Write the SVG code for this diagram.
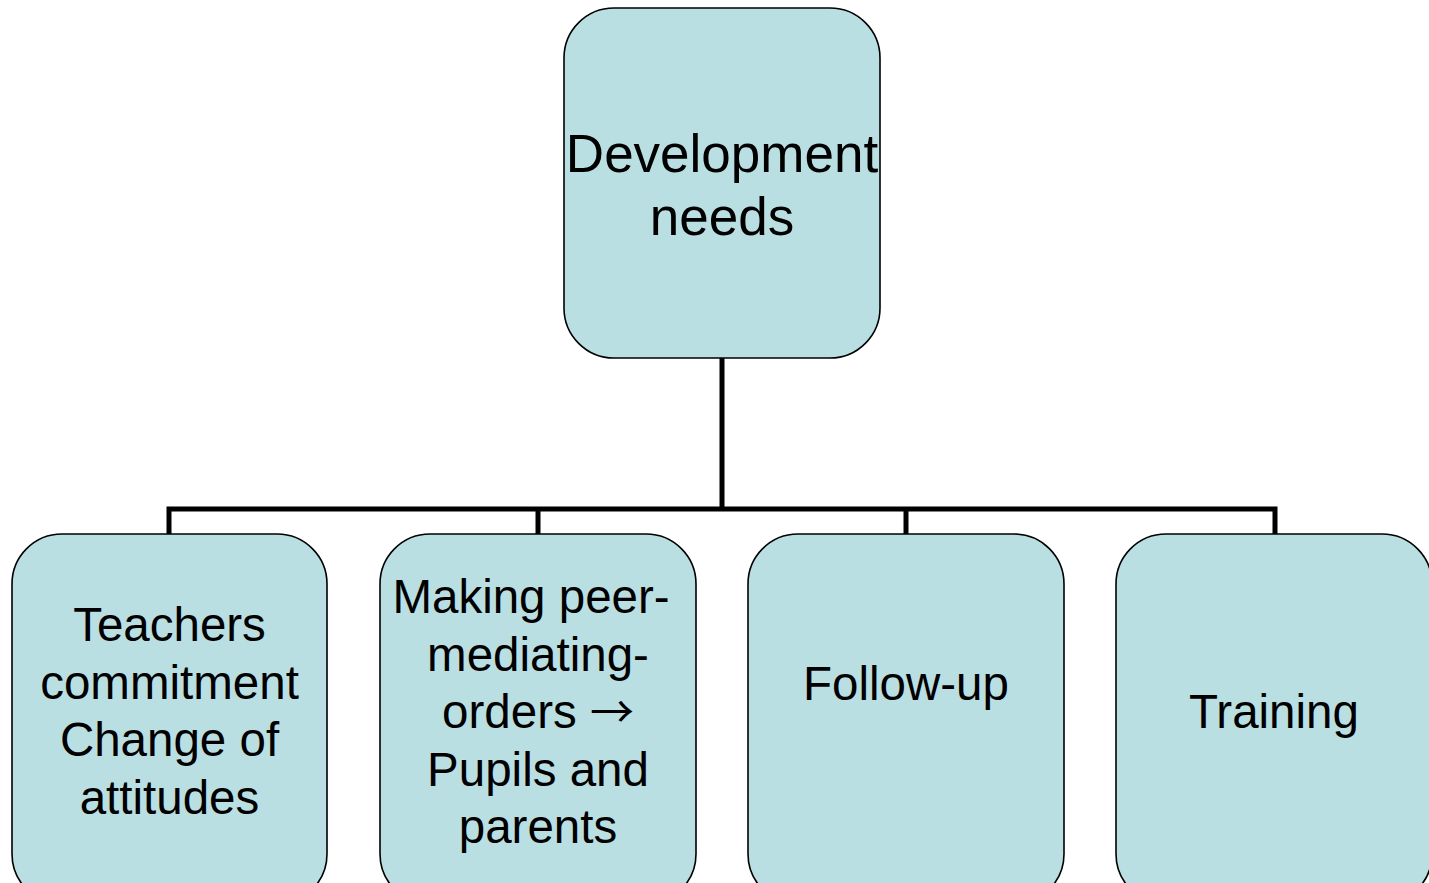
<svg xmlns="http://www.w3.org/2000/svg" width="1429" height="883" viewBox="0 0 1429 883">
<style>
.box{fill:#BADFE3;stroke:#000;stroke-width:1.6}
.t{font-family:"Liberation Sans",Arial,sans-serif;fill:#000;text-anchor:middle}
.big{font-size:53px}
.sm{font-size:47.5px}
.arr{font-family:"Noto Sans CJK JP","DejaVu Sans",sans-serif;font-size:44px}
.conn{fill:none;stroke:#000;stroke-width:5}
</style>
<rect width="1429" height="883" fill="#fff"/>
<g id="connectors">
<path class="conn" d="M722,358 V509"/>
<path class="conn" d="M169,534 V509 H1275 V534"/>
<path class="conn" d="M538,509 V534"/>
<path class="conn" d="M906,509 V534"/>
</g>
<g id="root">
<rect class="box" x="564" y="8" width="316" height="350" rx="50" ry="50"/>
<text class="t big" x="722" y="172">Development</text>
<text class="t big" x="722" y="235">needs</text>
</g>
<g id="n1">
<rect class="box" x="12" y="534" width="315" height="370" rx="50" ry="50"/>
<text class="t sm" x="169.5" y="641">Teachers</text>
<text class="t sm" x="169.5" y="698.5">commitment</text>
<text class="t sm" x="169.5" y="756">Change of</text>
<text class="t sm" x="169.5" y="813.5">attitudes</text>
</g>
<g id="n2">
<rect class="box" x="380" y="534" width="316" height="370" rx="50" ry="50"/>
<text class="t sm" x="531" y="613">Making peer-</text>
<text class="t sm" x="538" y="670.5">mediating-</text>
<text class="t sm" x="538" y="728">orders <tspan class="arr">→</tspan></text>
<text class="t sm" x="538" y="785.5">Pupils and</text>
<text class="t sm" x="538" y="843">parents</text>
</g>
<g id="n3">
<rect class="box" x="748" y="534" width="316" height="370" rx="50" ry="50"/>
<text class="t sm" x="906" y="700">Follow-up</text>
</g>
<g id="n4">
<rect class="box" x="1116" y="534" width="316" height="370" rx="50" ry="50"/>
<text class="t sm" x="1274" y="728">Training</text>
</g>
</svg>
